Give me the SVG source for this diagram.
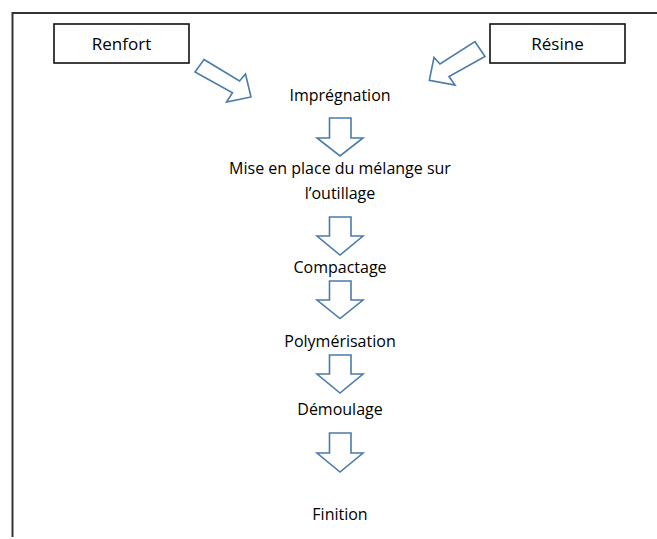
<svg xmlns="http://www.w3.org/2000/svg" width="657" height="539" viewBox="0 0 657 539">
<style>
.t{font-family:"Open Sans","Liberation Sans",sans-serif;font-size:16px;fill:#000;text-anchor:middle}
.b{font-size:17px}
.box{fill:#fff;stroke:#111;stroke-width:1.6}
.arr{fill:#fff;stroke:#4a7bab;stroke-width:1.6;stroke-linejoin:miter}
.frame{fill:none;stroke:#333;stroke-width:2}
</style>
<rect width="657" height="539" fill="#fff"/>
<path class="frame" d="M12.5,537 V13 H657"/>
<g id="renfort"><rect class="box" x="54" y="24" width="135" height="39"/><text class="t b" x="121.5" y="50">Renfort</text></g>
<g id="resine"><rect class="box" x="490" y="24" width="135" height="39"/><text class="t b" x="557.5" y="50">Résine</text></g>
<g id="impregnation"><text class="t" x="340" y="101">Imprégnation</text></g>
<g id="mise"><text class="t" x="340" y="174">Mise en place du mélange sur</text><text class="t" x="340" y="199">l’outillage</text></g>
<g id="compactage"><text class="t" x="340" y="273">Compactage</text></g>
<g id="polymerisation"><text class="t" x="340" y="346.5">Polymérisation</text></g>
<g id="demoulage"><text class="t" x="340" y="415">Démoulage</text></g>
<g id="finition"><text class="t" x="340" y="520">Finition</text></g>
<g id="connectors">
<polygon class="arr" points="204,59.5 239.5,81 245.5,74 251,97 226.5,102 232.5,92.7 195,72"/>
<polygon class="arr" points="475,41.7 485,56.5 449,76.5 455,85 429.3,80.3 434,57.5 440,64"/>
<polygon class="arr" points="329.5,118 351,118 351,138 363,138 340,156 317,138 329.5,138"/>
<polygon class="arr" points="329.5,217 351,217 351,236 363,236 340,255 317,236 329.5,236"/>
<polygon class="arr" points="329.5,281 351,281 351,300 363,300 340,318.5 317,300 329.5,300"/>
<polygon class="arr" points="329.5,355 351,355 351,374 363,374 340,393 317,374 329.5,374"/>
<polygon class="arr" points="329.5,433 351,433 351,453 363,453 340,472 317,453 329.5,453"/>
</g>
</svg>
